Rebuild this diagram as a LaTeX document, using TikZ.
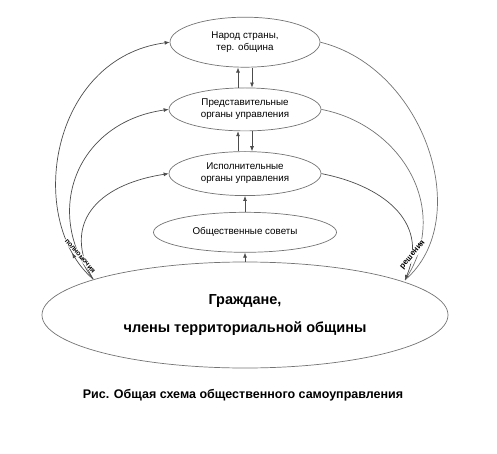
\documentclass[tikz,border=0pt]{standalone}
\usepackage{fontspec}
\setmainfont{Liberation Sans}
\usetikzlibrary{
  arrows.meta,
  positioning,
  shapes.geometric,
  decorations.markings
}

\begin{document}
\begin{tikzpicture}[
  x=1pt, y=-1pt,
  body/.style={ellipse, draw=black!55, line width=0.7pt, inner sep=0pt,
               font=\fontsize{9.8}{12}\selectfont, align=center,
               minimum width=152pt, minimum height=44pt},
  link/.style={line width=0.7pt, draw=black!55},
  arr/.style={-{Latex[length=5pt,width=4pt]}, line width=0.7pt, draw=black!70},
  side/.style={font=\bfseries\fontsize{7}{8}\selectfont, inner sep=0.6pt, fill=white},
  upmark/.style={postaction={decorate}, decoration={markings,
                 mark=at position 0.11 with {\arrow{Latex[length=5pt,width=4pt]}}}}
]
\useasboundingbox (0,0) rectangle (497,454);
% citizens and the bodies above them
\node[body, minimum width=406pt, minimum height=106pt,
      font=\bfseries\fontsize{14.5}{28}\selectfont] (cit) at (245,315)
  {Граждане,\\ члены территориальной общины};
\node[body, minimum width=183pt, minimum height=40pt,
      above=9pt of cit.north] (sov) {Общественные советы};
\node[body, above=16pt of sov] (exec) {Исполнительные\\ органы управления};
\node[body, minimum height=43pt, above=20pt of exec] (repr)
  {Представительные\\ органы управления};
\node[body, minimum width=150pt, minimum height=50pt, above=20pt of repr] (people)
  {Народ страны,\\ тер. община};
% vertical arrows
\draw[arr] (cit.north) -- (sov.south);
\draw[arr] (sov.north) -- (exec.south);
\draw[arr] ([xshift=-7pt]exec.north) -- ([xshift=-7pt]repr.south);
\draw[arr] ([xshift=7pt]repr.south) -- ([xshift=7pt]exec.north);
\draw[arr] ([xshift=-7pt]repr.north) -- ([xshift=-7pt]people.south);
\draw[arr] ([xshift=7pt]people.south) -- ([xshift=7pt]repr.north);
% left side: from citizens upward
\coordinate (cl) at (93,279);
\coordinate (cr) at (405,280);
\draw[arr, upmark] (cl) .. controls (25,220) and (50,58) .. (people.west);
\draw[arr] (cl) .. controls (42,210) and (78,122) .. (repr.west);
\draw[arr] (cl) .. controls (62,225) and (95,185) .. (exec.west);
% right side: from bodies down to citizens
\draw[link] (people.east) .. controls (425,68) and (475,220) .. (cr);
\draw[link] (repr.east) .. controls (402,125) and (452,210) .. (cr);
\draw[arr] (exec.east) .. controls (380,185) and (430,220) .. (cr);
\node[side, rotate=-49] (lpow) at (80,256) {полномочия};
\node[side, rotate=50, font=\bfseries\fontsize{8}{9}\selectfont] (lres) at (413,255) {решения};
% caption
\node[font=\bfseries\fontsize{12.5}{14}\selectfont] (cap) at (243,395)
  {Рис. Общая схема общественного самоуправления};
\end{tikzpicture}
\end{document}
